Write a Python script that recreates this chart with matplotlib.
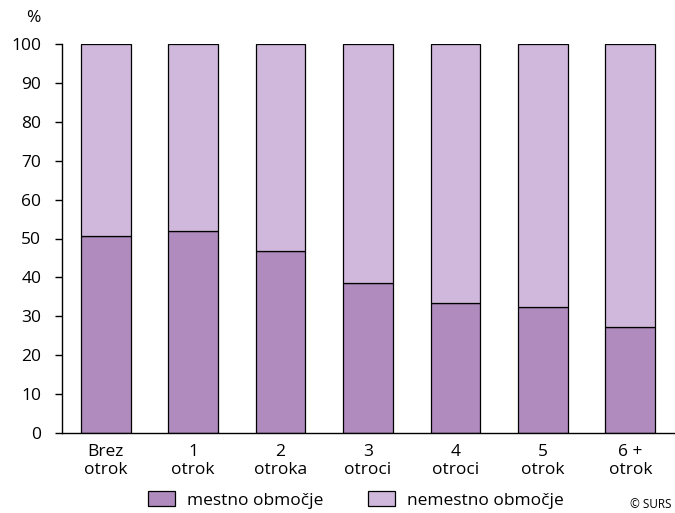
import matplotlib
matplotlib.use("Agg")
import matplotlib.pyplot as plt
from matplotlib.patches import Patch

plt.rcParams['font.family'] = ['Open Sans', 'DejaVu Sans']

categories = ["Brez\notrok", "1\notrok", "2\notroka", "3\notroci", "4\notroci", "5\notrok", "6 +\notrok"]
mestno = [50.7, 51.8, 46.8, 38.5, 33.4, 32.3, 27.3]
nemestno = [100 - v for v in mestno]
series_names = ["mestno območje", "nemestno območje"]
yticks = [0, 10, 20, 30, 40, 50, 60, 70, 80, 90, 100]

c_dark = "#af8bbe"
c_light = "#cfb8dc"

FS = 12.5
W, H = 675, 513
fig = plt.figure(figsize=(W / 100, H / 100), dpi=100)
ax = fig.add_axes([62 / W, (H - 433) / H, (674 - 62) / W, (433 - 44) / H])

x = range(len(categories))
ax.bar(x, mestno, width=0.57, color=c_dark, edgecolor="black", linewidth=0.9)
ax.bar(x, nemestno, width=0.57, bottom=mestno, color=c_light, edgecolor="black", linewidth=0.9)

ax.set_xlim(-0.5, len(categories) - 0.5)
ax.set_ylim(0, 100)
ax.set_yticks(yticks)
ax.set_xticks(list(x))
ax.set_xticklabels(categories, fontsize=FS, linespacing=1.15)
ax.tick_params(axis="x", length=0, pad=8)
ax.tick_params(axis="y", length=5, width=1, labelsize=FS, pad=10, direction="out")
for s in ["top", "right"]:
    ax.spines[s].set_visible(False)
for s in ["left", "bottom"]:
    ax.spines[s].set_linewidth(1)

fig.text(33 / W, 1 - 18 / H, "%", fontsize=FS, ha="center", va="center")

handles = [Patch(facecolor=c_dark, edgecolor="black", linewidth=0.9),
           Patch(facecolor=c_light, edgecolor="black", linewidth=0.9)]
fig.legend(handles, series_names, loc="center", bbox_to_anchor=(356 / W, 1 - 500 / H),
           ncol=2, frameon=False, fontsize=FS, handlelength=1.55, handleheight=0.95,
           handletextpad=0.7, columnspacing=2.6, borderpad=0)

fig.text(672 / W, 1 - 505 / H, "© SURS", fontsize=8.5, ha="right", va="center")

fig.savefig("out.png", dpi=100)
